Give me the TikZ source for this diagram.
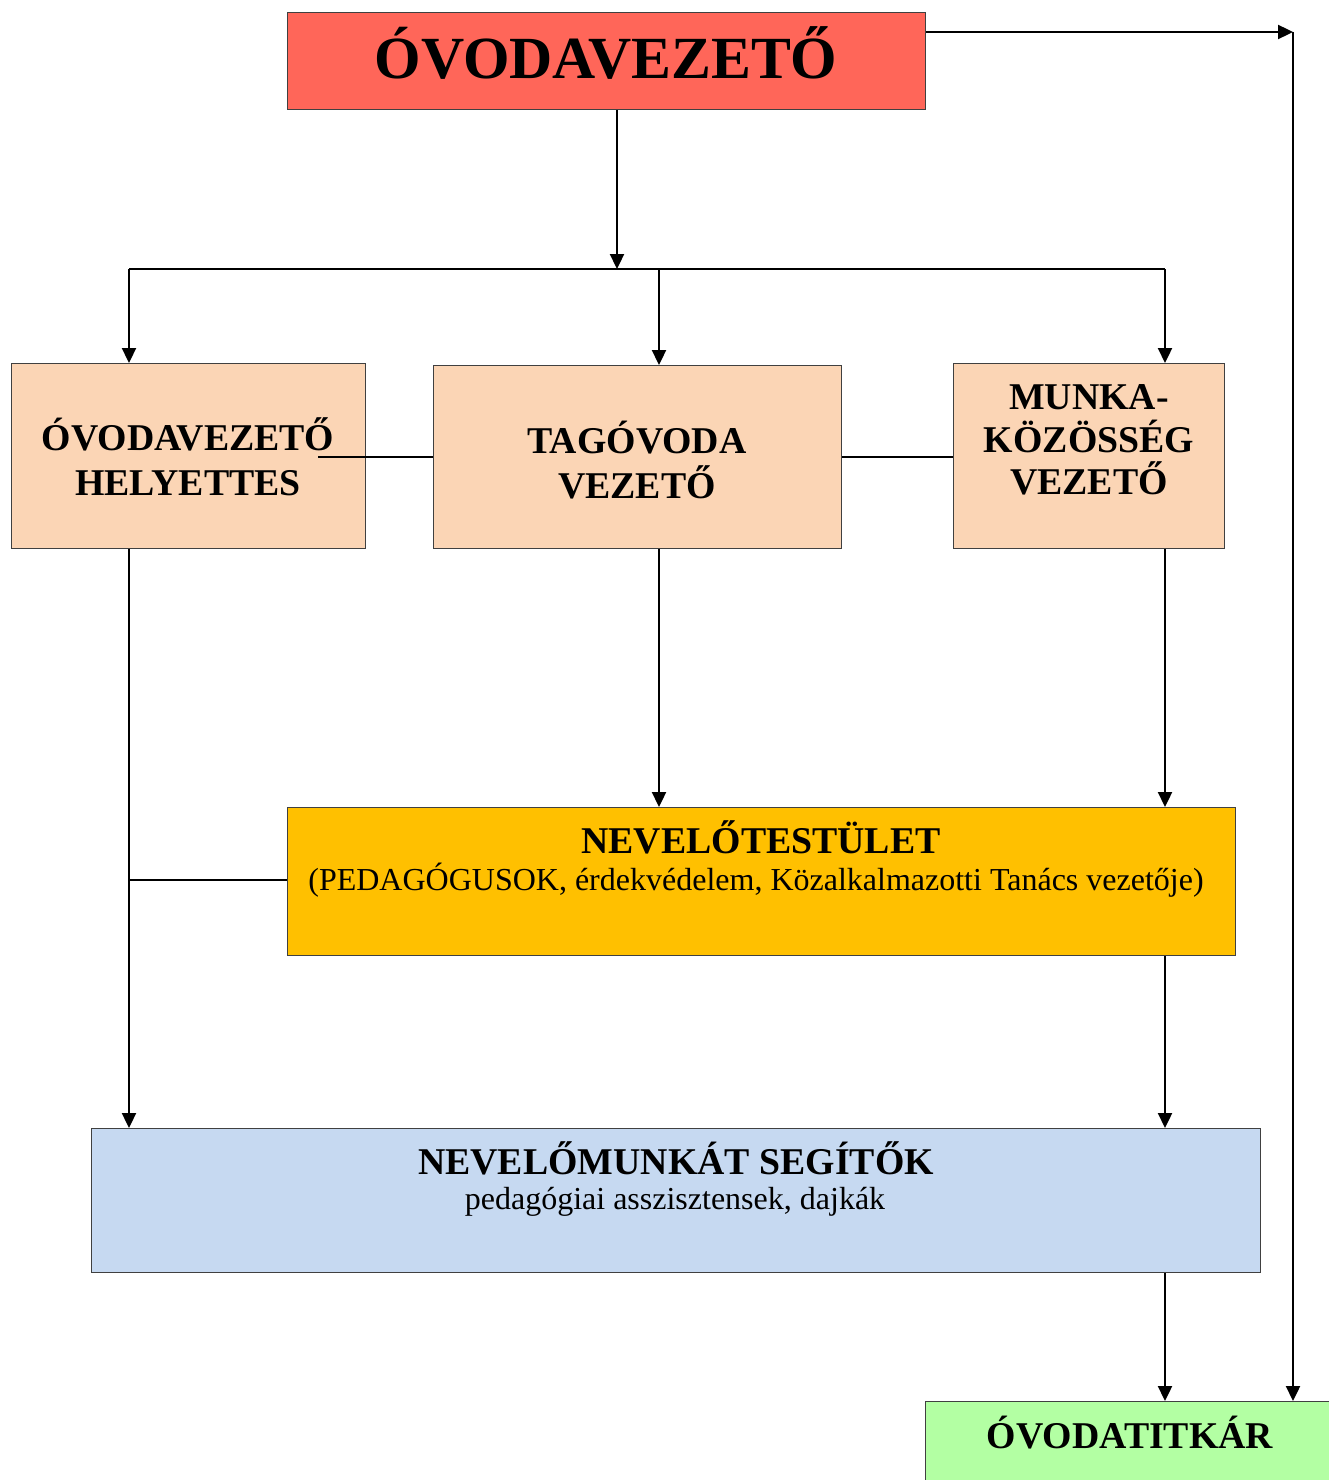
\documentclass[tikz,border=0pt]{standalone}
\usepackage{fontspec}
\setmainfont{Liberation Serif}
\usetikzlibrary{arrows.meta}
\definecolor{cred}{HTML}{FF6659}
\definecolor{cpeach}{HTML}{FBD5B5}
\definecolor{corange}{HTML}{FFC000}
\definecolor{cblue}{HTML}{C6D9F1}
\definecolor{cgreen}{HTML}{B3FFA3}
\tikzset{
  box/.style={draw=black!75, line width=1.3pt, inner sep=0pt, anchor=north west},
  conn/.style={line width=2.3pt, black},
  arr/.style={conn, -{Triangle[length=15pt,width=14pt]}},
  big/.style={font=\fontsize{59.8}{66}\selectfont\bfseries},
  mid/.style={font=\fontsize{37.8}{44.5}\selectfont\bfseries, align=center},
  sub/.style={font=\fontsize{32}{38}\selectfont},
}
\begin{document}
\begin{tikzpicture}[x=1pt,y=-1pt]
\useasboundingbox[fill=white] (0,0) rectangle (1328,1480);
% boxes
\node[box, fill=cred, minimum width=638pt, minimum height=97pt] (top) at (287,12) {};
\node[big] (toptxt) at (606,53) {ÓVODAVEZETŐ};
\node[box, fill=cpeach, minimum width=354pt, minimum height=185pt] (hely) at (11,363) {};
\node[mid] (helytxt) at (188,457) {ÓVODAVEZETŐ\\HELYETTES};
\node[box, fill=cpeach, minimum width=408pt, minimum height=183pt] (tag) at (433,365) {};
\node[mid] (tagtxt) at (637,460) {TAGÓVODA\\VEZETŐ};
\node[box, fill=cpeach, minimum width=271pt, minimum height=185pt] (munka) at (953,363) {};
\node[mid, font=\fontsize{37.8}{42.5}\selectfont\bfseries] (munkatxt) at (1089,440) {MUNKA-\\KÖZÖSSÉG\\VEZETŐ};
\node[box, fill=corange, minimum width=948pt, minimum height=148pt] (nev) at (287,807) {};
\node[mid] (nevtit) at (761,837) {NEVELŐTESTÜLET};
\node[sub] (nevsub) at (756,880) {(PEDAGÓGUSOK, érdekvédelem, Közalkalmazotti Tanács vezetője)};
\node[box, fill=cblue, minimum width=1169pt, minimum height=144pt] (seg) at (91,1128) {};
\node[mid] (segtit) at (676,1158) {NEVELŐMUNKÁT SEGÍTŐK};
\node[sub] (segsub) at (675,1202) {pedagógiai asszisztensek, dajkák};
\node[box, fill=cgreen, minimum width=420pt, minimum height=100pt] (tit) at (925,1401) {};
\node[mid] (tittxt) at (1130,1433) {ÓVODATITKÁR};
% connectors
\coordinate (bar1) at (129,269);
\coordinate (bar2) at (617,269);
\coordinate (bar3) at (659,269);
\coordinate (bar4) at (1165,269);
\draw[conn] (bar1) -- (bar4);
\draw[arr] (top.south -| bar2) -- (bar2);
\draw[arr] (bar1) -- (bar1 |- hely.north);
\draw[arr] (bar3) -- (bar3 |- tag.north);
\draw[arr] (bar4) -- (bar4 |- munka.north);
\coordinate (hl) at (318,457);
\draw[conn, line width=1.6pt] (hl) -- (hl -| tag.west);
\draw[conn, line width=1.6pt] (tag.east |- hl) -- (hl -| munka.west);
\draw[arr] (bar1 |- hely.south) -- (bar1 |- seg.north);
\draw[arr] (bar3 |- tag.south) -- (bar3 |- nev.north);
\draw[arr] (bar4 |- munka.south) -- (bar4 |- nev.north);
\coordinate (nl) at (129,880);
\draw[conn, line width=1.8pt] (nl) -- (nl -| nev.west);
\draw[arr] (bar4 |- nev.south) -- (bar4 |- seg.north);
\draw[arr] (bar4 |- seg.south) -- (bar4 |- tit.north);
\coordinate (rc) at (1293,32);
\draw[arr] (top.east |- rc) -- (rc);
\draw[arr] (rc) -- (rc |- tit.north);
\end{tikzpicture}
\end{document}
